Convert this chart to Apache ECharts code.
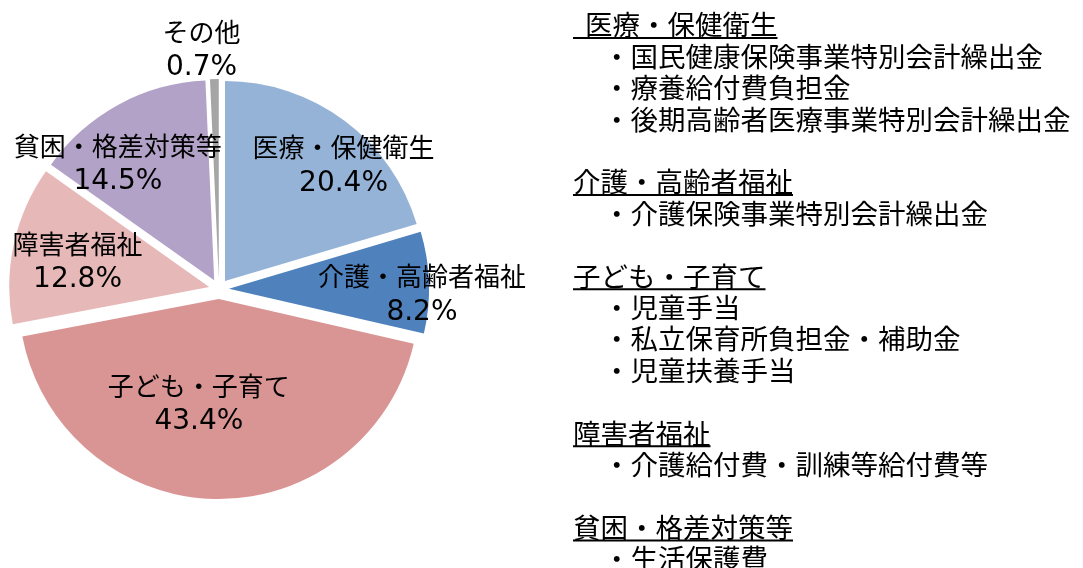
<!DOCTYPE html>
<html>
<head>
<meta charset="utf-8">
<title>社会保障関係費の内訳</title>
<script src="https://cdn.jsdelivr.net/npm/echarts@6/dist/echarts.min.js"></script>
<style>
  html, body { margin: 0; padding: 0; background: #fff; }
  #main { width: 1083px; height: 568px; }
</style>
</head>
<body>
<div id="main"></div>
<script>
// 内訳データ
var categories = ['医療・保健衛生', '介護・高齢者福祉', '子ども・子育て', '障害者福祉', '貧困・格差対策等', 'その他'];
var shares = [20.4, 8.2, 43.4, 12.8, 14.5, 0.7];
var colors = ['#95b3d7', '#4f81bd', '#d99594', '#e6b9b8', '#b2a2c7', '#a5a5a5'];

// 右側の説明（見出し＋項目）
var noteTitles = ['医療・保健衛生', '介護・高齢者福祉', '子ども・子育て', '障害者福祉', '貧困・格差対策等'];
var noteItems = [
    ['国民健康保険事業特別会計繰出金', '療養給付費負担金', '後期高齢者医療事業特別会計繰出金'],
    ['介護保険事業特別会計繰出金'],
    ['児童手当', '私立保育所負担金・補助金', '児童扶養手当'],
    ['介護給付費・訓練等給付費等'],
    ['生活保護費']
];

// ラベル位置の微調整 (dx, dy)
var labelShift = [[57, -33], [90, 9], [-18, 2], [-31, -3], [-47, -26], [-15, -126]];

var FONT = '"Noto Sans CJK JP", "Noto Sans", sans-serif';
var myChart = echarts.init(document.getElementById('main'));

var pieData = [];
for (var i = 0; i < categories.length; i++) {
    pieData.push({
        name: categories[i],
        value: shares[i],
        selected: true,
        itemStyle: { color: colors[i] }
    });
}

// 右側テキストと下線
var measureCtx = document.createElement('canvas').getContext('2d');
function textWidth(str, size) {
    measureCtx.font = size + 'px ' + FONT;
    return measureCtx.measureText(str).width;
}

var graphics = [];
var lineStep = 31.4, topY = 25, noteSize = 27.5;
var row = 0;
for (var g = 0; g < noteTitles.length; g++) {
    var y = topY + row * lineStep;
    var tx = g === 0 ? 585 : 573;
    graphics.push({
        type: 'text', x: tx, y: y,
        style: { text: noteTitles[g], font: noteSize + 'px ' + FONT, fill: '#000', textVerticalAlign: 'middle' }
    });
    graphics.push({
        type: 'rect',
        shape: { x: 573, y: y + 12, width: tx - 573 + textWidth(noteTitles[g], noteSize), height: 2 },
        style: { fill: '#000' }
    });
    row++;
    for (var k = 0; k < noteItems[g].length; k++) {
        graphics.push({
            type: 'text', x: 603, y: topY + row * lineStep,
            style: { text: '・' + noteItems[g][k], font: noteSize + 'px ' + FONT, fill: '#000', textVerticalAlign: 'middle' }
        });
        row++;
    }
    row++; // 空行
}

option = {
    animation: false,
    graphic: graphics,
    series: [
        {
            type: 'pie',
            center: [219, 289],
            radius: 200,
            startAngle: 90,
            clockwise: true,
            selectedMode: 'multiple',
            selectedOffset: 10,
            emphasis: { disabled: true },
            label: {
                show: true,
                position: 'inside',
                color: '#000',
                formatter: function (p) {
                    return '{n|' + p.name + '}\n{p|' + p.value.toFixed(1) + '%}';
                },
                rich: {
                    n: { fontFamily: FONT, fontSize: 26, lineHeight: 36, color: '#000' },
                    p: { fontFamily: '"DejaVu Sans", sans-serif', fontSize: 28, lineHeight: 36, color: '#000' }
                }
            },
            labelLine: { show: false },
            labelLayout: function (params) {
                var s = labelShift[params.dataIndex];
                return { dx: s[0], dy: s[1], hideOverlap: false };
            },
            data: pieData
        }
    ]
};

myChart.setOption(option);
</script>
</body>
</html>
